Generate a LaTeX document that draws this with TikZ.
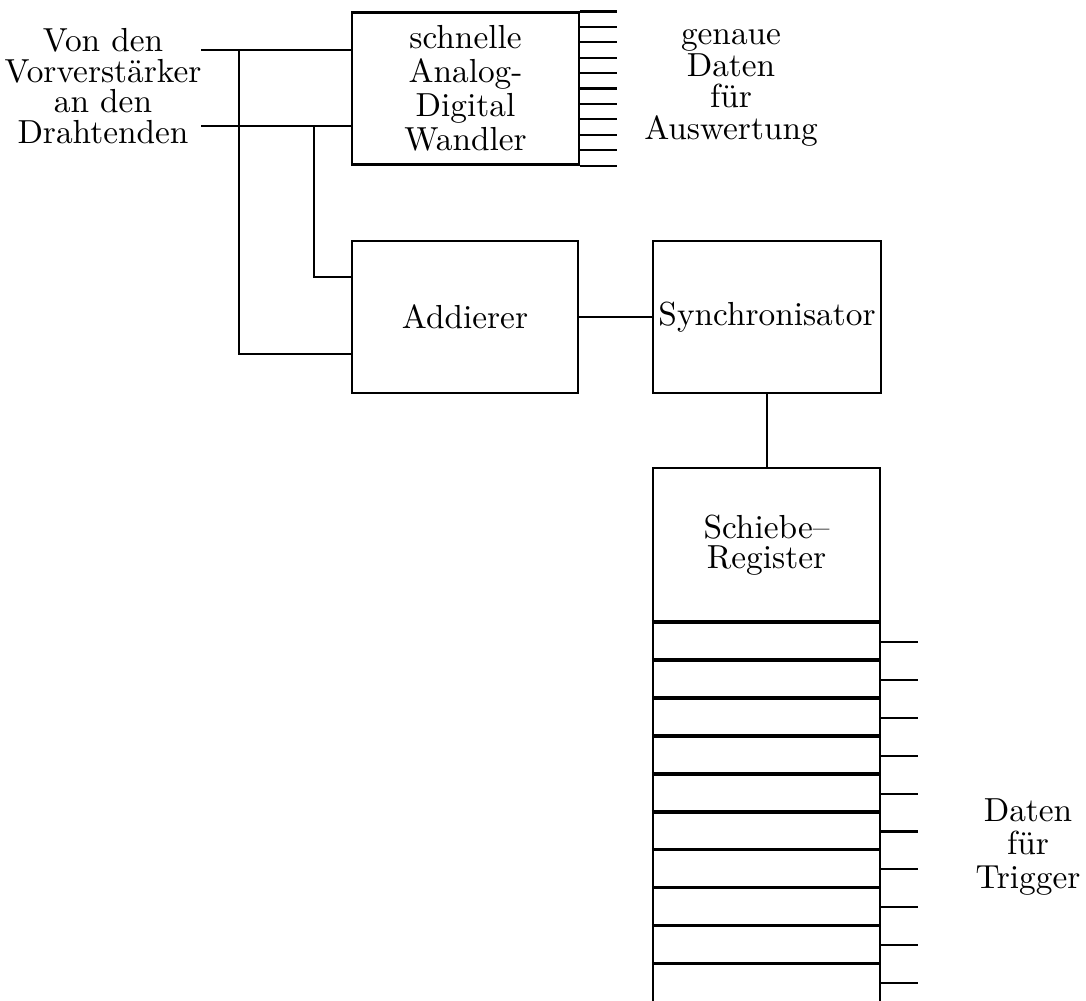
\documentclass[tikz,border=0pt]{standalone}
\usetikzlibrary{calc}
\begin{document}
\begin{tikzpicture}[x=0.315pt, y=-0.315pt,
  font=\fontsize{10.5}{10}\selectfont,
  wire/.style={line width=0.65pt},
  blk/.style 2 args={draw, line width=0.65pt, inner sep=0pt,
    minimum width=#1*0.315pt, minimum height=#2*0.315pt, align=center},
  lbl/.style={align=center, inner sep=0pt},
  cell/.style={draw, line width=0.65pt, inner sep=0pt,
    minimum width=227*0.315pt, minimum height=37.9*0.315pt},
  sep/.style={line width=1.0pt}]

\useasboundingbox (0,0) rectangle (1086,1000);
\clip (0,0) rectangle (1086,1000);

% blocks
\node[blk={227}{152}, font=\fontsize{10.5}{10.7}\selectfont] (adc) at (465.5,88.5)
  {schnelle\\Analog-\\Digital\\Wandler};
\node[blk={226}{152}] (add) at (465,317) {Addierer};
\node[blk={228}{152}] (syn) at (767,317) {Synchronisator};
\node[blk={227}{154}, font=\fontsize{10.5}{9.6}\selectfont] (sr) at (766.5,545)
  {Schiebe--\\Register};

% register cells with their outputs
\foreach \i in {1,...,10} {
  \node[cell, anchor=north] (c\i) at (766.5,{622+37.9*(\i-1)}) {};
  \draw[sep] (c\i.north west) -- (c\i.north east);
  \draw[wire] (c\i.east) -- ++(37,0);
}

% labels
\node[lbl, font=\fontsize{10.5}{9.6}\selectfont] (src) at (103,86)
  {Von den\\Vorverstärker\\an den\\Drahtenden};
\node[lbl, font=\fontsize{10.5}{9.9}\selectfont] (prec) at (731,88)
  {genaue\\Daten\\für\\Auswertung};
\node[lbl, font=\fontsize{10.5}{10.7}\selectfont] (trig) at (1028,847)
  {Daten\\für\\Trigger};

% inputs from the wire ends
\coordinate (in1) at (201,50);
\coordinate (in2) at (201,126);
\coordinate (j1) at (239,50);
\coordinate (j2) at (314,126);
\draw[wire] (in1) -- (in1 -| adc.west);
\draw[wire] (in2) -- (in2 -| adc.west);
\draw[wire] (j1) |- ($(add.north west)!0.737!(add.south west)$);
\draw[wire] (j2) |- ($(add.north west)!0.243!(add.south west)$);

% ADC outputs
\foreach \k in {0,...,10}
  \draw[wire] ($(adc.north east)!\k/10!(adc.south east)$) -- ++(37,0);

% signal chain
\draw[wire] (add) -- (syn);
\draw[wire] (syn.south) -- (syn.south |- sr.north);

\end{tikzpicture}
\end{document}
